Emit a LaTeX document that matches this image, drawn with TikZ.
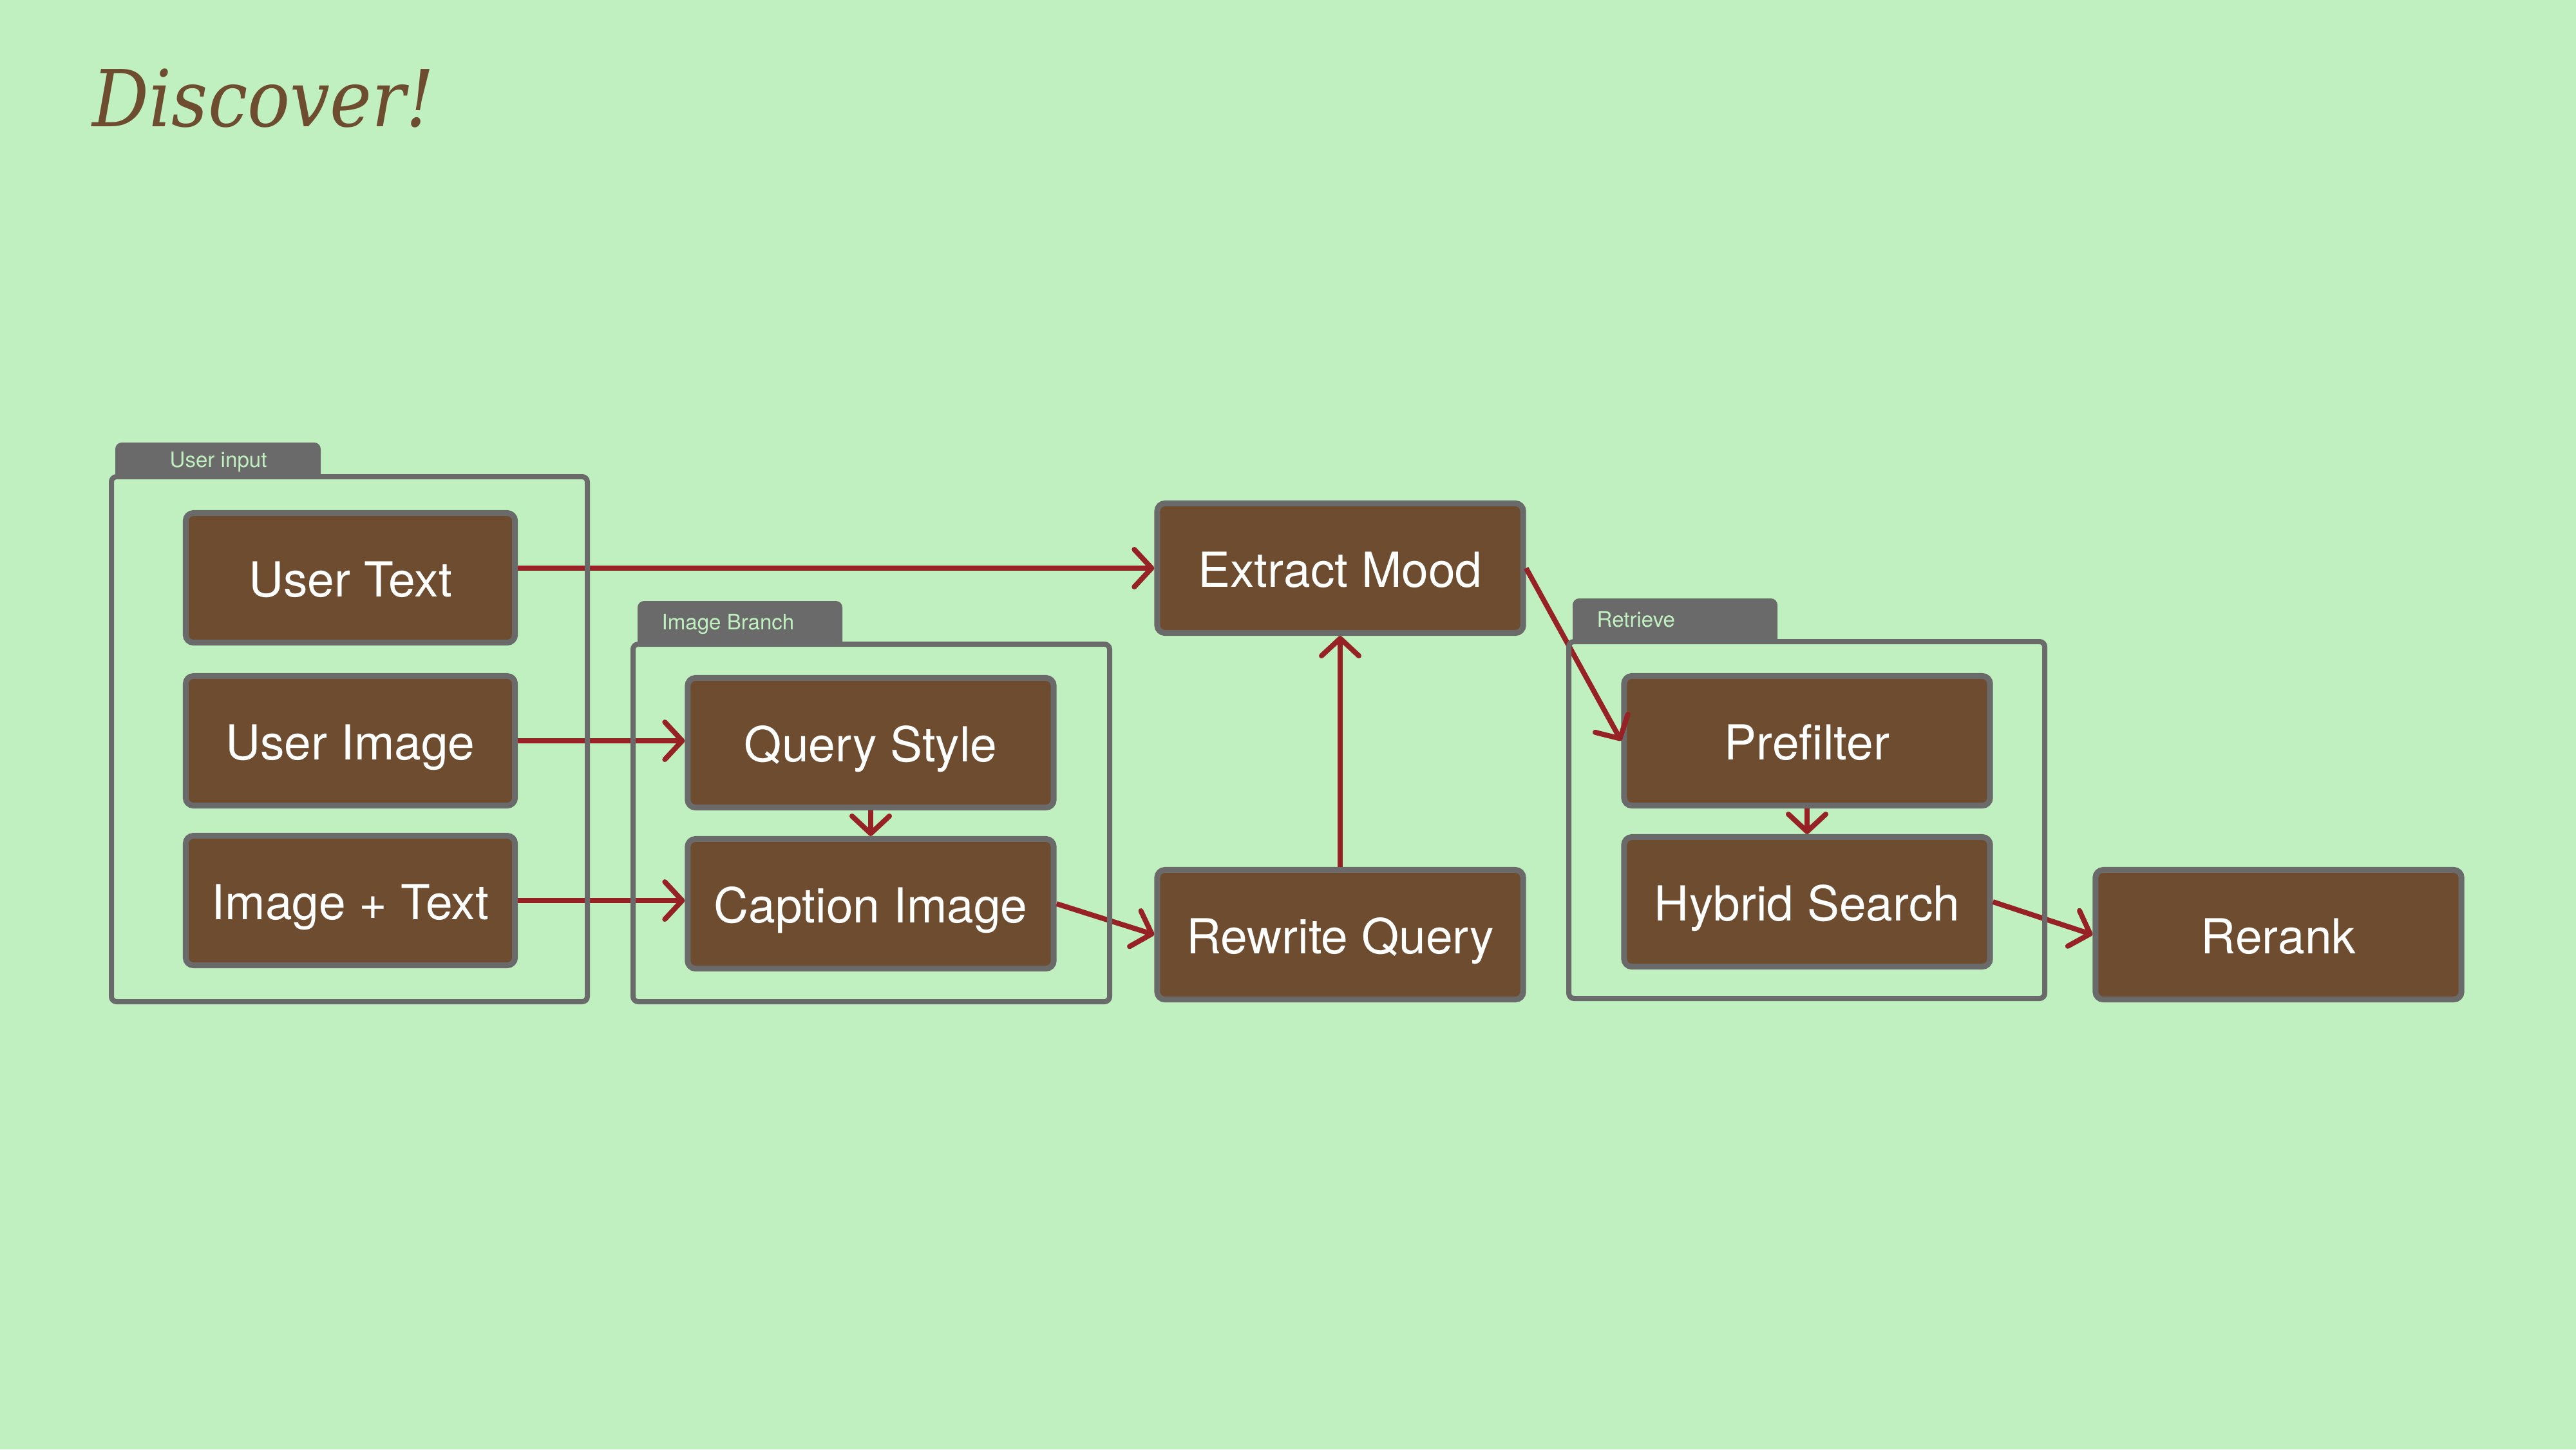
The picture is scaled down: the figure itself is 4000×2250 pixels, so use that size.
\documentclass[tikz,border=0pt]{standalone}
\usepackage{fontspec}
\setmainfont{TeX Gyre Heros}
\newfontfamily\titlefont{DejaVu Serif Condensed Italic}
\usetikzlibrary{arrows.meta,calc}
\definecolor{bgc}{HTML}{C0F0C0}
\definecolor{brownc}{HTML}{6D4C2F}
\definecolor{grayc}{HTML}{6A6A6A}
\definecolor{redc}{HTML}{972226}
\definecolor{titlec}{HTML}{6D4C2F}
\tikzset{
  box/.style={draw=grayc, fill=brownc, line width=0.09cm, rounded corners=0.12cm,
    minimum height=2.01cm, inner sep=0pt, text=white,
    text height=16.7pt, text depth=0pt,
    font=\fontsize{21.3}{25}\selectfont},
  boxs/.style={box, minimum width=5.11cm},
  boxl/.style={box, minimum width=5.68cm},
  grp/.style={draw=grayc, line width=0.08cm, rounded corners=0.08cm},
  tabtext/.style={anchor=base west, inner sep=0pt, text=bgc, font=\fontsize{9.4}{11}\selectfont},
  conn/.style={draw=redc, line width=0.08cm,
    -{Straight Barb[length=0.27cm,width=0.58cm,round]}},
}
\begin{document}
\begin{tikzpicture}[x=0.01cm,y=-0.01cm]
\fill[bgc] (0,0) rectangle (4000,2250);
\useasboundingbox (0,0) rectangle (4000,2250);

% title
\node[anchor=base west, inner sep=0pt, text=titlec, font=\titlefont\fontsize{34.7}{40}\selectfont] (title) at (143,196) {Discover!};

% tabs
\fill[grayc] (179,740) -- (179,697) arc[start angle=180,end angle=270,radius=10] -- (488,687) arc[start angle=270,end angle=360,radius=10] -- (498,740) -- cycle;
\fill[grayc] (990,1000) -- (990,943) arc[start angle=180,end angle=270,radius=10] -- (1298,933) arc[start angle=270,end angle=360,radius=10] -- (1308,1000) -- cycle;
\fill[grayc] (2442,996) -- (2442,939) arc[start angle=180,end angle=270,radius=10] -- (2750,929) arc[start angle=270,end angle=360,radius=10] -- (2760,996) -- cycle;
\node[tabtext] (tabA) at (263,725) {User input};
\node[tabtext] (tabB) at (1027,977) {Image Branch};
\node[tabtext] (tabC) at (2479,973) {Retrieve};

% boxes
\node[boxs] (ut) at (544,897) {User Text};
\node[boxs] (ui) at (544,1150) {User Image};
\node[boxs] (it) at (544,1398) {Image + Text};
\node[boxl] (qs) at (1352,1153) {Query Style};
\node[boxl] (ci) at (1352,1403) {Caption Image};
\node[boxl] (em) at (2081,882) {Extract Mood};
\node[boxl] (rq) at (2081,1451) {Rewrite Query};
\node[boxl] (pf) at (2806,1150) {Prefilter};
\node[boxl] (hs) at (2806,1400) {Hybrid Search};
\node[boxl] (rr) at (3538,1451) {Rerank};

% connectors
\draw[conn] (ut.east |- em.west) -- (em.west);
\draw[conn] (ui.east) -- (ui.east -| qs.west);
\draw[conn] (it.east) -- (it.east -| ci.west);
\draw[conn] (qs.south) -- (ci.north);
\draw[conn] (ci.east) -- (rq.west);
\draw[conn] (rq.north) -- (em.south);
\draw[conn] (em.east) -- (pf.west);
\draw[conn] (pf.south) -- (hs.north);
\draw[conn] (hs.east) -- (rr.west);

% groups
\draw[grp] (173,740) rectangle (912,1555);
\draw[grp] (983,1000) rectangle (1723,1555);
\draw[grp] (2436,996) rectangle (3175,1550);
\end{tikzpicture}
\end{document}
